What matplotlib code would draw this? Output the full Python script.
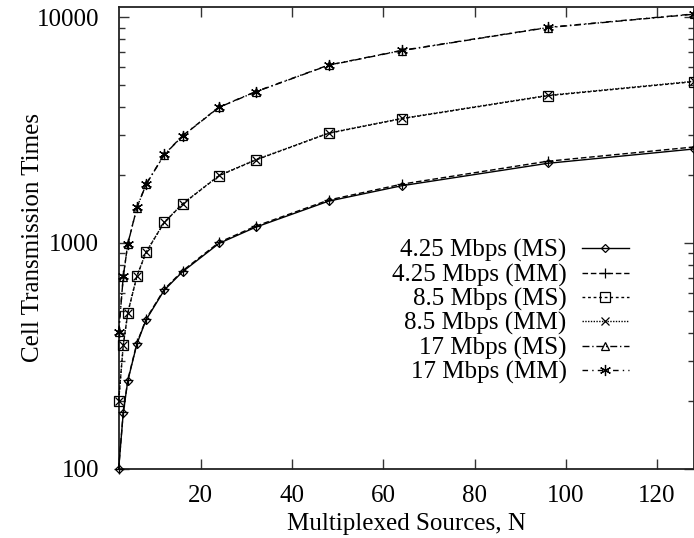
import matplotlib
matplotlib.use("Agg")
import matplotlib.pyplot as plt
from matplotlib.ticker import LogLocator, NullFormatter, FixedLocator

plt.rcParams['font.family'] = ['Liberation Serif', 'DejaVu Serif']

# Multiplexed sources
n_sources = [2, 3, 4, 6, 8, 12, 16, 24, 32, 48, 64, 96, 128]

# Cell transmission times
rate425_ms = [100, 177, 245, 357, 456, 618, 745, 995, 1173, 1531, 1791, 2252, 2606]
rate425_mm = [100, 178, 247, 360, 460, 623, 752, 1005, 1185, 1548, 1820, 2300, 2660]
rate85_ms = [200, 352, 490, 713, 908, 1233, 1486, 1985, 2328, 3059, 3548, 4487, 5178]
rate85_mm = [200, 353, 491, 715, 910, 1236, 1490, 1990, 2335, 3068, 3560, 4505, 5200]
rate17_ms = [401, 708, 990, 1433, 1815, 2460, 2976, 3990, 4668, 6124, 7113, 8995, 10310]
rate17_mm = [402, 710, 993, 1437, 1820, 2467, 2985, 4000, 4680, 6140, 7130, 9020, 10340]

x_ticks = [20, 40, 60, 80, 100, 120]
y_ticks = [100, 1000, 10000]

W, H = 694, 538
fig = plt.figure(figsize=(W / 100, H / 100), dpi=100)
ax = fig.add_axes([118.7 / W, 1 - 468.5 / H, (693.5 - 118.7) / W, (468.5 - 7.3) / H])

series = [
    ('4.25 Mbps (MS)', rate425_ms, '-', 'D', 4.5),
    ('4.25 Mbps (MM)', rate425_mm, (0, (4, 2)), '+', 7),
    ('8.5 Mbps (MS)', rate85_ms, (0, (2, 2)), 's', 7),
    ('8.5 Mbps (MM)', rate85_mm, (0, (1, 1)), 'x', 6),
    ('17 Mbps (MS)', rate17_ms, (0, (5, 2, 1, 2)), '^', 6),
    ('17 Mbps (MM)', rate17_mm, (0, (4, 3, 1, 3)), (6, 2, 0), 8),
]

for label, vals, ls, mk, ms in series:
    ax.plot(n_sources, vals, color='black', linestyle=ls, linewidth=1.0,
            marker=mk, markersize=ms, markerfacecolor='none',
            markeredgecolor='black', markeredgewidth=0.9,
            label=label, clip_on=False, zorder=3)

ax.set_yscale('log')
ax.set_xlim(2, 128)
ax.set_ylim(100, 11070)

ax.xaxis.set_major_locator(FixedLocator(x_ticks))
ax.yaxis.set_major_locator(FixedLocator(y_ticks))
ax.set_yticklabels([str(v) for v in y_ticks])
ax.yaxis.set_minor_locator(LogLocator(base=10, subs=range(2, 10)))
ax.yaxis.set_minor_formatter(NullFormatter())

ax.tick_params(which='both', direction='in', top=True, right=True,
               labelsize=18, width=1.0, color='#333333')
ax.tick_params(axis='x', which='major', length=7, pad=12)
ax.tick_params(axis='y', which='major', length=7, pad=14)
ax.tick_params(which='minor', length=4)

for sp in ax.spines.values():
    sp.set_linewidth(1.3)
    sp.set_color('#222222')

ax.set_xlabel('Multiplexed Sources, N', fontsize=18, labelpad=4)
ax.set_ylabel('Cell Transmission Times', fontsize=18, labelpad=-5.5)

leg = ax.legend(loc='upper right', bbox_to_anchor=(0.888, 0.497),
                frameon=False, markerfirst=False, fontsize=18,
                handlelength=1.9, handletextpad=0.6, labelspacing=0.05,
                borderpad=0, borderaxespad=0)

fig.savefig('out.png', dpi=100)
